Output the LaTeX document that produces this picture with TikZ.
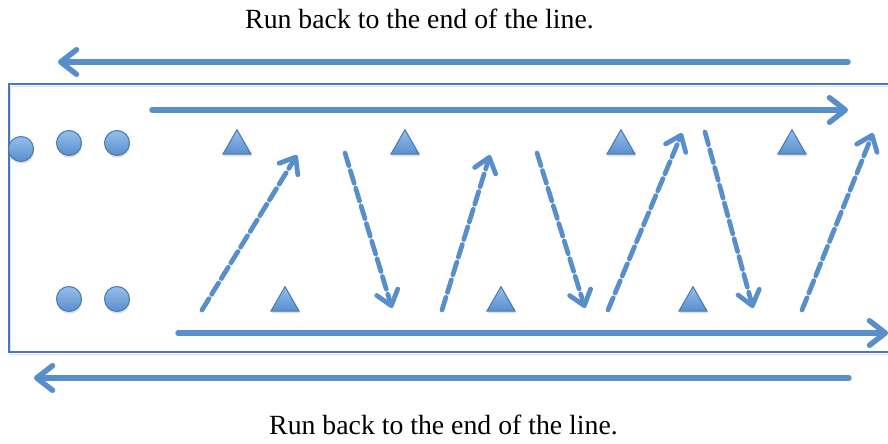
\documentclass[tikz,border=0pt]{standalone}
\usepackage{fontspec}
\setmainfont{Liberation Serif}
\usepackage{tikz}
\usetikzlibrary{arrows.meta, shapes.geometric, shadows}
\usepackage{tkz-euclide}

\definecolor{lane}{RGB}{88,143,203}
\definecolor{laneedge}{RGB}{72,120,182}
\definecolor{lanelight}{RGB}{150,190,238}

\begin{document}
\begin{tikzpicture}[x=0.2mm, y=0.2mm,
    shade line/.style={preaction={draw=black!22, opacity=0.6,
        transform canvas={shift={(0.5pt,-1.3pt)}}}},
    run/.style={lane, line width=3.1pt, shade line,
        -{Straight Barb[length=9pt,width=14pt,round]}},
    dashrun/.style={lane, line width=2.7pt, dash pattern=on 7.5pt off 3pt, shade line,
        -{Straight Barb[length=8pt,width=12.5pt,round]}},
    player/.style={circle, draw=laneedge, line width=0.6pt, top color=lanelight,
        bottom color=lane, minimum size=14.2pt, inner sep=0pt,
        drop shadow={shadow xshift=0.4pt, shadow yshift=-1.3pt, opacity=0.25}},
    cone/.style={regular polygon, regular polygon sides=3, draw=laneedge, line width=0.6pt,
        top color=lanelight, bottom color=lane, minimum size=18.5pt, inner sep=0pt,
        drop shadow={shadow xshift=0.4pt, shadow yshift=-1.3pt, opacity=0.25}},
    caption/.style={font=\fontsize{15.8}{18}\selectfont, anchor=base}]
            \useasboundingbox (0,0) rectangle (888,444);
            % end points of the runs
            \tkzDefPoints{848/382/A, 58/382/B, 152/334/C, 848/334/D,
                          178/111/E, 888/111/F, 849/66/G, 34/66/H}
            \tkzDefPoints{202/134/P1, 297/289/Q1, 345/291/P2, 392/136/Q2,
                          442/134/P3, 490/289/Q3, 537/291/P4, 585/136/Q4,
                          608/134/P5, 682/311/Q5, 705/312/P6, 753/136/Q6,
                          802/134/P7, 873/311/Q7}
            % the field, open at the right
            \draw[laneedge, line width=1.2pt, shade line]
                (888,360) -- (9,360) -- (9,92) -- (888,92);
            \tkzDrawSegments[run](A,B C,D E,F G,H)
            \tkzDrawSegments[dashrun](P1,Q1 P2,Q2 P3,Q3 P4,Q4 P5,Q5 P6,Q6 P7,Q7)
            % players waiting in line
            \node[player] (u1) at (21,295) {};
            \node[player] (u2) at (69,301) {};
            \node[player] (u3) at (117,301) {};
            \node[player] (l1) at (69,145) {};
            \node[player] (l2) at (117,145) {};
            % cones
            \foreach \x/\n in {237/1, 405/2, 621/3, 792/4}
                \node[cone] (cu\n) at (\x,298) {};
            \foreach \x/\n in {285/1, 501/2, 693/3}
                \node[cone] (cl\n) at (\x,141) {};
            \node[caption] (top) at (419.5,415) {Run back to the end of the line.};
            \node[caption] (bottom) at (443.5,9) {Run back to the end of the line.};
        \end{tikzpicture}
\end{document}
